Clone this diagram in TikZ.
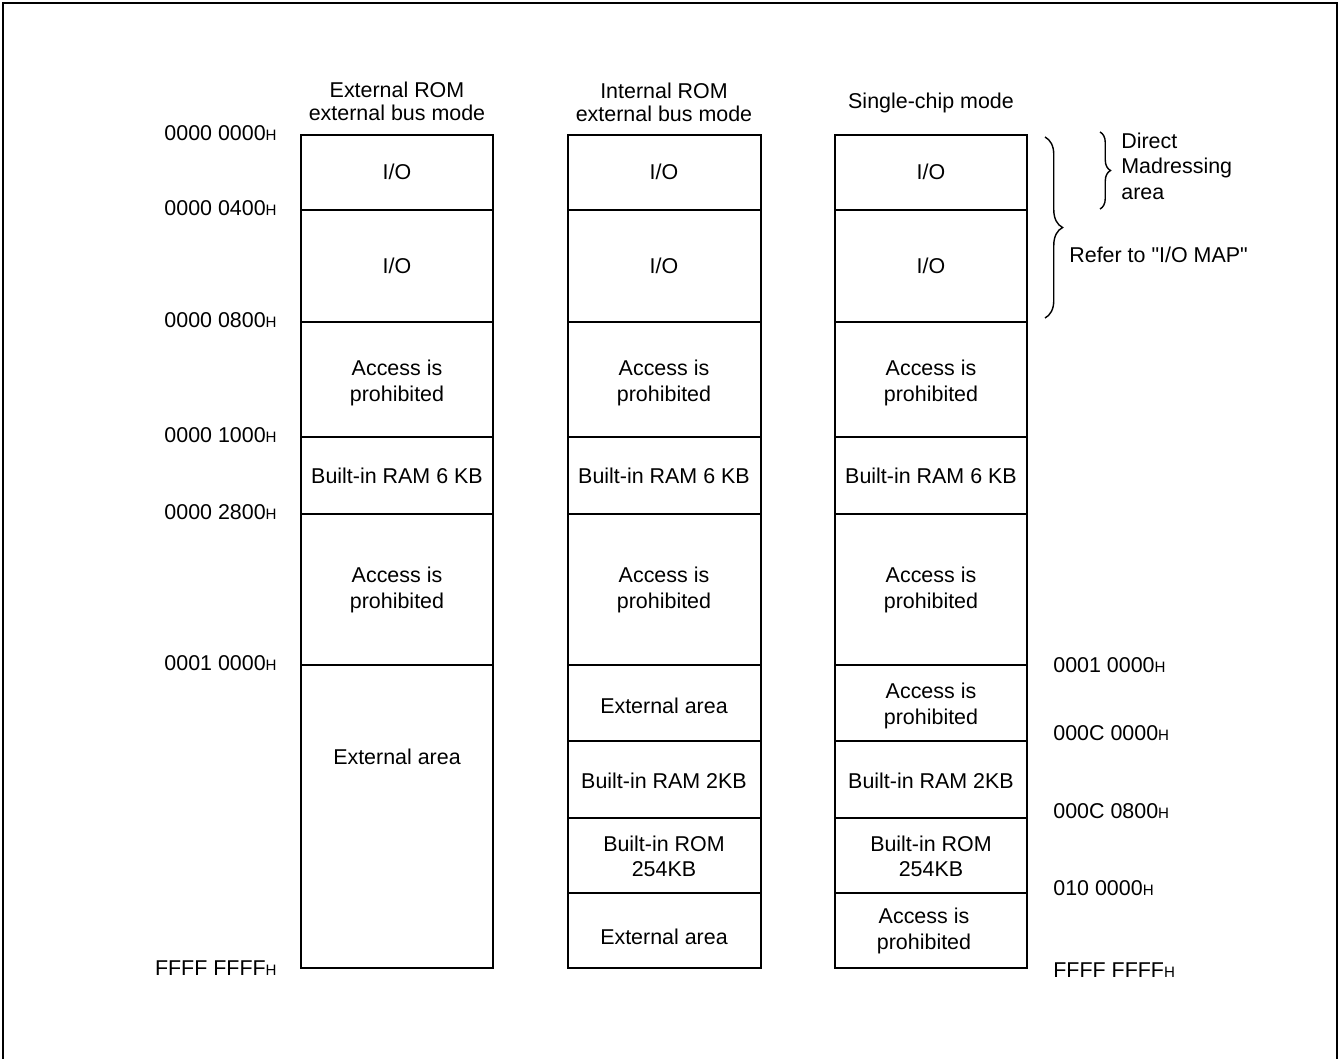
\documentclass[tikz,border=0pt]{standalone}
\usepackage{fontspec}
\setmainfont{Liberation Sans}
\usetikzlibrary{decorations.pathreplacing}
\newcommand{\hx}{{\fontsize{8.6}{10}\selectfont H}}
\newcommand{\accp}{Access is\\prohibited}

\begin{document}
\begin{tikzpicture}[x=0.02cm,y=-0.02cm,font=\fontsize{12.2}{14.3}\selectfont,
  membox/.style={line width=1.2pt},
  divline/.style={line width=0.6pt},
  memtxt/.style={align=center,inner sep=0pt},
  title/.style={memtxt,font=\fontsize{12.2}{13.2}\selectfont},
  addr/.style={inner sep=0pt}]
\useasboundingbox (0,0) rectangle (1340,1059);
\draw[line width=1.2pt] (3,1059)--(3,3)--(1337,3)--(1337,1059);
% mode titles
\node[title] (title1) at (397,101) {External ROM\\external bus mode};
\node[title] (title2) at (664,102) {Internal ROM\\external bus mode};
\node[title] (title3) at (931,103) {Single-chip mode};
% memory columns
\foreach \xl/\xr/\c in {301/493/1,568/761/2,835/1027/3}{
  \draw[membox] (\xl,135) rectangle (\xr,968);
  \foreach \y in {210,322,437,514,665}
    \draw[divline] (\xl,\y)--(\xr,\y);
}
\foreach \xl/\xr in {568/761,835/1027}{
  \draw[divline] (\xl,741)--(\xr,741);
  \draw[divline] (\xl,818)--(\xr,818);
  \draw[membox] (\xl,893)--(\xr,893);
}
% common upper regions
\foreach \x/\c in {397/1,664/2,931/3}{
  \node[memtxt] (io\c a) at (\x,172) {I/O};
  \node[memtxt] (io\c b) at (\x,266) {I/O};
  \node[memtxt] (ap\c a) at (\x,383) {\accp};
  \node[memtxt] (ram\c) at (\x,476) {Built-in RAM 6 KB};
  \node[memtxt] (ap\c b) at (\x,590) {\accp};
}
% lower regions
\node[memtxt] (ext1) at (397,757) {External area};
\node[memtxt] (ext2a) at (664,706) {External area};
\node[memtxt] (ramb2) at (664,781) {Built-in RAM 2KB};
\node[memtxt] (rom2) at (664,856) {Built-in ROM\\254KB};
\node[memtxt] (ext2b) at (664,937) {External area};
\node[memtxt] (ap3c) at (931,706) {\accp};
\node[memtxt] (ramb3) at (931,781) {Built-in RAM 2KB};
\node[memtxt] (rom3) at (931,856) {Built-in ROM\\254KB};
\node[memtxt] (ap3d) at (924,931) {\accp};
% addresses
\foreach \y/\lab [count=\i] in {133/0000 0000,208/0000 0400,320/0000 0800,435/0000 1000,
  512/0000 2800,663/0001 0000,968/FFFF FFFF}
  \node[addr,anchor=east] (la\i) at (277,\y) {\lab\hx};
\foreach \y/\lab [count=\i] in {665/0001 0000,733/000C 0000,811/000C 0800,888/010 0000,970/FFFF FFFF}
  \node[addr,anchor=west] (ra\i) at (1053,\y) {\lab\hx};
% braces
\draw[line width=0.8pt,decorate,decoration={brace,amplitude=10pt}] (1045,137)--(1045,318);
\draw[line width=0.8pt,decorate,decoration={brace,amplitude=6pt}] (1100,132)--(1100,209);
\node[align=left,anchor=west,inner sep=0pt,font=\fontsize{12.2}{14.5}\selectfont] (dmarea) at (1121,166) {Direct\\Madressing\\area};
\node[addr,anchor=west] (iomap) at (1069,255) {Refer to \textquotedbl I/O MAP\textquotedbl};
\end{tikzpicture}
\end{document}
